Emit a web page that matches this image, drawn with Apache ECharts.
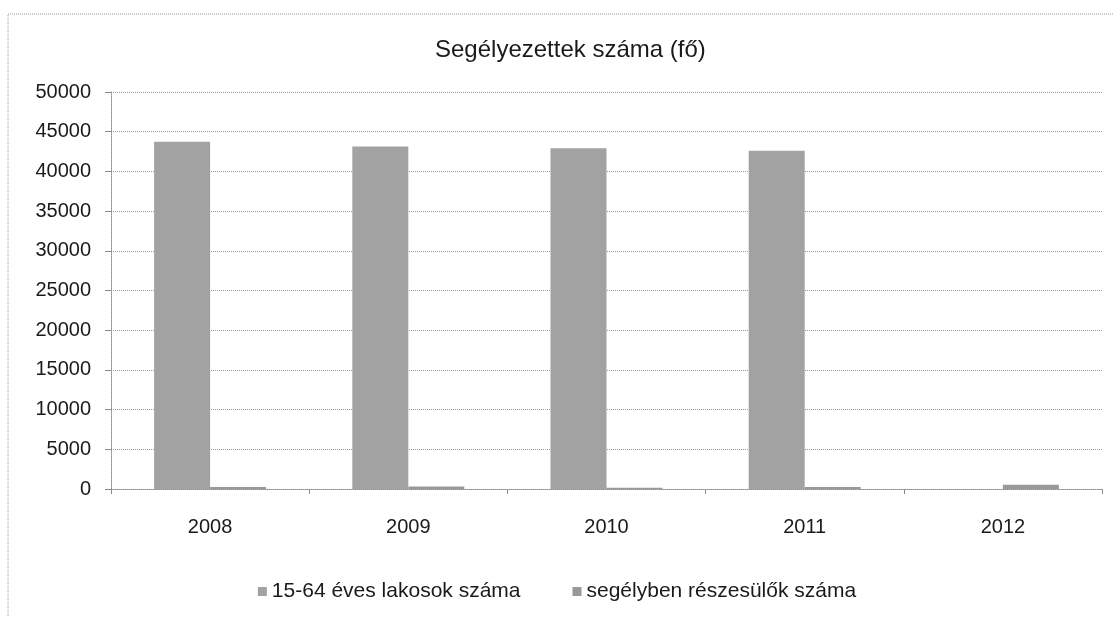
<!DOCTYPE html>
<html>
<head>
<meta charset="utf-8">
<script src="https://cdn.jsdelivr.net/npm/echarts@6/dist/echarts.min.js"></script>
<style>
  html, body { margin: 0; padding: 0; background: #fff; }
  #chart { width: 1114px; height: 617px; }
</style>
</head>
<body>
<div id="chart"></div>
<script>
// adatok
const years = ['2008', '2009', '2010', '2011', '2012'];
const lakosok = [43750, 43150, 42900, 42600, null];
const segelyezettek = [250, 300, 150, 250, 550];
const seriesNames = ['15-64 éves lakosok száma', 'segélyben részesülők száma'];

const chart = echarts.init(document.getElementById('chart'));

const txt = '#1a1a1a';
const font = '"Liberation Sans", "DejaVu Sans", sans-serif';

chart.setOption({
    animation: false,
    backgroundColor: '#fff',
    title: {
        text: 'Segélyezettek száma (fő)',
        left: 430,
        top: 33,
        textStyle: { fontFamily: font, fontSize: 24, fontWeight: 'normal', color: txt }
    },
    legend: {
        bottom: 10,
        left: 'center',
        itemWidth: 9,
        itemHeight: 9,
        itemGap: 52,
        icon: 'rect',
        textStyle: { fontFamily: font, fontSize: 21, color: txt }
    },
    grid: { left: 111, right: 12, top: 92, bottom: 128 },
    xAxis: {
        type: 'category',
        data: years,
        axisLine: { lineStyle: { color: '#8a8a8a', type: 'dotted' } },
        axisTick: { show: true, length: 5, lineStyle: { color: '#8a8a8a' } },
        axisLabel: { fontFamily: font, fontSize: 20, color: txt, margin: 28 }
    },
    yAxis: {
        type: 'value',
        min: 0,
        max: 50000,
        interval: 5000,
        axisLine: { show: true, lineStyle: { color: '#8a8a8a', type: 'dotted' } },
        axisTick: { show: true, length: 6, lineStyle: { color: '#8a8a8a' } },
        axisLabel: { fontFamily: font, fontSize: 20, color: txt, margin: 20, formatter: v => String(v) },
        splitLine: { lineStyle: { color: '#9a9a9a', type: 'dotted' } }
    },
    graphic: [{
        type: 'rect',
        shape: { x: 8, y: 14, width: 1120, height: 620 },
        style: { fill: 'none', stroke: '#9a9a9a', lineWidth: 1, lineDash: [1, 1] },
        silent: true
    }],
    series: [
        {
            name: seriesNames[0],
            type: 'bar',
            data: lakosok,
            barWidth: 56,
            barGap: '0%',
            itemStyle: { color: '#a2a2a2' }
        },
        {
            name: seriesNames[1],
            type: 'bar',
            data: segelyezettek,
            barWidth: 56,
            itemStyle: { color: '#999999' }
        }
    ]
});
</script>
</body>
</html>
